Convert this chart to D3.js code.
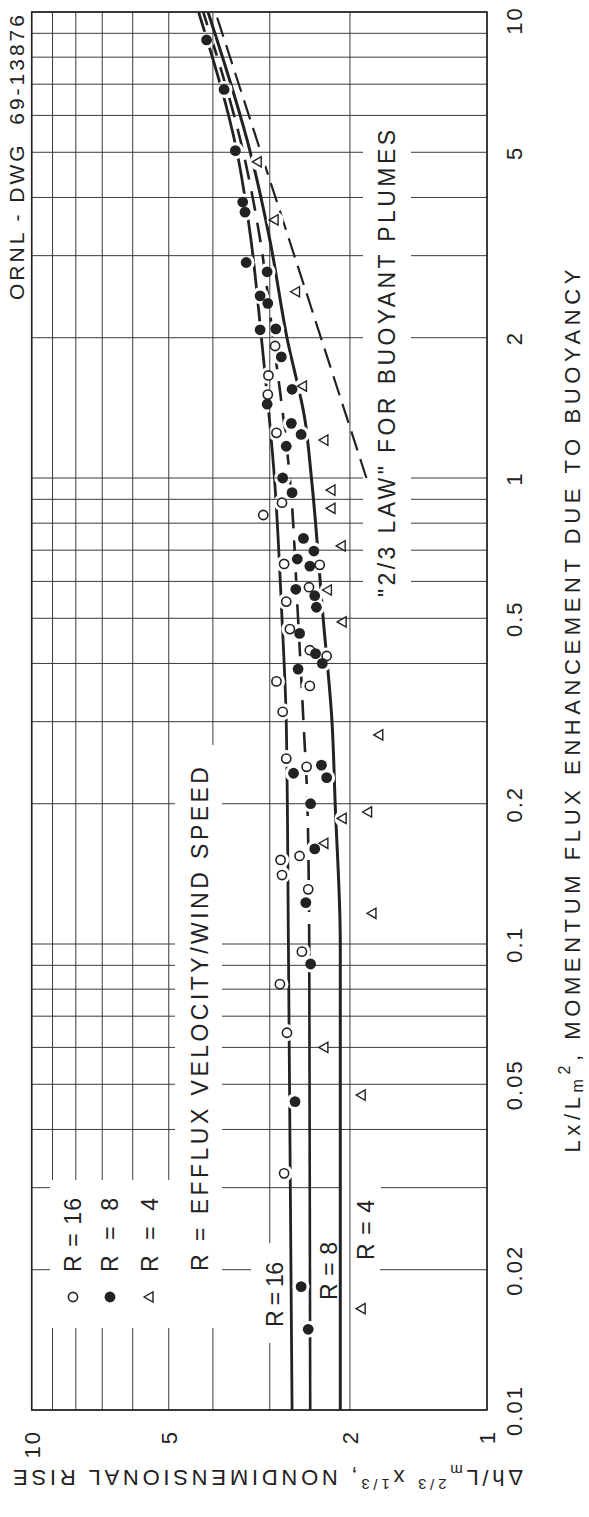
<!DOCTYPE html>
<html>
<head>
<meta charset="utf-8">
<script src="https://cdnjs.cloudflare.com/ajax/libs/d3/7.8.5/d3.min.js"></script>
<style>
  body { margin: 0; background: #fff; overflow: hidden; }
  svg text { font-family: "Liberation Sans", Arial, sans-serif; fill: #222; }
</style>
</head>
<body>
<svg id="chart"></svg>
<script>
// ---- data (flux = Lx/Lm^2, rise = nondimensional rise) ----
const fluxTicks = [0.01, 0.02, 0.05, 0.1, 0.2, 0.5, 1, 2, 5, 10];
const fluxTickLabels = ["0.01", "0.02", "0.05", "0.1", "0.2", "0.5", "1", "2", "5", "10"];
const riseTicks = [10, 5, 2, 1];
const riseTickLabels = ["10", "5", "2", "1"];

// measured points [flux, rise]
const r16Points = [[1.92,2.92],[1.66,3.02],[1.51,3.03],[1.25,2.90],[0.885,2.82],[0.833,3.10],[0.654,2.79],
  [0.651,2.33],[0.583,2.46],[0.543,2.76],[0.474,2.71],[0.427,2.45],[0.415,2.25],[0.366,2.90],[0.358,2.45],
  [0.315,2.81],[0.250,2.76],[0.240,2.49],[0.1545,2.58],[0.1515,2.84],[0.1406,2.82],[0.131,2.47],
  [0.0963,2.55],[0.082,2.85],[0.0645,2.75],[0.0322,2.79]];
const r8Points = [[8.71,4.13],[6.82,3.78],[5.04,3.57],[3.91,3.44],[3.72,3.40],[2.90,3.38],[2.77,3.04],
  [2.46,3.15],[2.37,3.03],[2.08,3.15],[2.09,2.91],[1.82,2.83],[1.55,2.68],[1.44,3.04],[1.31,2.69],
  [1.24,2.56],[1.17,2.76],[1.00,2.81],[0.93,2.68],[0.742,2.53],[0.697,2.40],[0.670,2.61],[0.647,2.45],
  [0.577,2.63],[0.559,2.39],[0.528,2.37],[0.464,2.58],[0.420,2.38],[0.400,2.30],[0.389,2.60],
  [0.242,2.31],[0.2325,2.66],[0.2275,2.25],[0.200,2.44],[0.160,2.39],[0.1227,2.50],[0.0906,2.44],
  [0.0459,2.64],[0.0184,2.56],[0.0149,2.47]];
const r4Points = [[4.77,3.18],[3.58,2.92],[2.51,2.62],[1.575,2.53],[1.206,2.27],[0.942,2.19],[0.861,2.19],
  [0.715,2.08],[0.575,2.23],[0.491,2.07],[0.281,1.72],[0.192,1.82],[0.186,2.07],[0.1645,2.27],
  [0.1164,1.78],[0.060,2.27],[0.0474,1.88],[0.0165,1.88]];

// drawn curves [flux, rise]
const r16Curve = [[0.01,2.68],[0.1,2.73],[0.3,2.76],[0.5,2.82],[1,2.93],[2,3.13],[3.25,3.30],[5,3.54],[10,4.30]];
const r8Curve = [[0.01,2.445],[0.1,2.457],[0.2,2.48],[0.3,2.53],[0.5,2.60],[1,2.71],[2,2.95],[3.25,3.15],[5,3.43],[10,4.20]];
const r4Curve = [[0.01,2.10],[0.1,2.10],[0.2,2.155],[0.3,2.19],[0.5,2.29],[1,2.43],[1.33,2.51],[2,2.75],[3.25,3.00],[5,3.31],[10,4.10]];
const lawCurve = [[1.0,1.84],[10,3.95]];

// ---- layout ----
const W = 589, H = 1517;
const plot = { left: 31.7, right: 487, top: 12, bottom: 1410 };
const ink = "#222";

const svg = d3.select("#chart").attr("width", W).attr("height", H);
svg.append("rect").attr("width", W).attr("height", H).attr("fill", "#fff");

// rise runs left (10) to right (1), flux runs bottom (0.01) to top (10)
const x = d3.scaleLog().domain([10, 1]).range([plot.left, plot.right]);
const y = d3.scaleLog().domain([0.01, 10]).range([plot.bottom, plot.top]);

const defs = svg.append("defs");
defs.append("clipPath").attr("id", "plotClip")
  .append("rect").attr("x", plot.left).attr("y", plot.top)
  .attr("width", plot.right - plot.left).attr("height", plot.bottom - plot.top);

// blank zones where the draftsman left the grid out (around lettering)
const hGaps = [[363,125,411,603],[175,745,222,1276],[50,1180,222,1328],[251,1262,380,1278],[340,1181,381,1195]];
const vGaps = [[175,745,222,1276],[50,1180,222,1328],[258,1243,285,1343]];
function gapMask(id, gaps) {
  const m = defs.append("mask").attr("id", id).attr("maskUnits", "userSpaceOnUse")
    .attr("x", 0).attr("y", 0).attr("width", W).attr("height", H);
  m.append("rect").attr("width", W).attr("height", H).attr("fill", "white");
  m.selectAll("rect.g").data(gaps).join("rect").attr("class", "g")
    .attr("x", d => d[0]).attr("y", d => d[1])
    .attr("width", d => d[2] - d[0]).attr("height", d => d[3] - d[1]).attr("fill", "black");
}
gapMask("hMask", hGaps);
gapMask("vMask", vGaps);

// curves break around the plotted symbols
const allPoints = r16Points.concat(r8Points, r4Points);
const cMask = defs.append("mask").attr("id", "cMask").attr("maskUnits", "userSpaceOnUse")
  .attr("x", 0).attr("y", 0).attr("width", W).attr("height", H);
cMask.append("rect").attr("width", W).attr("height", H).attr("fill", "white");
cMask.selectAll("circle").data(allPoints).join("circle")
  .attr("cx", d => x(d[1])).attr("cy", d => y(d[0])).attr("r", 8.5).attr("fill", "black");

// grid
svg.append("g").attr("mask", "url(#hMask)").attr("stroke", "#3a3a3a").attr("stroke-width", 1)
  .selectAll("line").data(y.ticks()).join("line")
  .attr("x1", plot.left).attr("x2", plot.right)
  .attr("y1", d => y(d)).attr("y2", d => y(d));
svg.append("g").attr("mask", "url(#vMask)").attr("stroke", "#3a3a3a").attr("stroke-width", 1)
  .selectAll("line").data(x.ticks()).join("line")
  .attr("y1", plot.top).attr("y2", plot.bottom)
  .attr("x1", d => x(d)).attr("x2", d => x(d));
svg.append("rect").attr("x", plot.left).attr("y", plot.top)
  .attr("width", plot.right - plot.left).attr("height", plot.bottom - plot.top)
  .attr("fill", "none").attr("stroke", ink).attr("stroke-width", 1.6);

// curves
const line = d3.line().x(d => x(d[1])).y(d => y(d[0])).curve(d3.curveMonotoneY);
const gc = svg.append("g").attr("clip-path", "url(#plotClip)")
  .append("g").attr("mask", "url(#cMask)")
  .attr("fill", "none").attr("stroke", ink);
gc.append("path").attr("d", line(r16Curve)).attr("stroke-width", 2.8);
gc.append("path").attr("d", line(r8Curve.filter(d => d[0] <= 0.1))).attr("stroke-width", 2.6);
gc.append("path").attr("d", line(r8Curve.filter(d => d[0] >= 0.1))).attr("stroke-width", 2.6)
  .attr("stroke-dasharray", "20,12");
gc.append("path").attr("d", line(r4Curve)).attr("stroke-width", 3);
gc.append("path").attr("d", line(lawCurve)).attr("stroke-width", 2.2).attr("stroke-dasharray", "20,9");

// symbols
const tri = d3.symbol(d3.symbolTriangle, 46);
function openSym(g) { g.append("circle").attr("r", 4.6).attr("fill", "#fff").attr("stroke", ink).attr("stroke-width", 1.6); }
function fillSym(g) { g.append("circle").attr("r", 5.4).attr("fill", ink); }
function triSym(g) { g.append("path").attr("d", tri()).attr("transform", "rotate(-90)")
  .attr("fill", "#fff").attr("stroke", ink).attr("stroke-width", 1.4); }

const gp = svg.append("g");
gp.selectAll("g.o").data(r16Points).join("g").attr("class", "o")
  .attr("transform", d => `translate(${x(d[1])},${y(d[0])})`).each(function () { openSym(d3.select(this)); });
gp.selectAll("g.f").data(r8Points).join("g").attr("class", "f")
  .attr("transform", d => `translate(${x(d[1])},${y(d[0])})`).each(function () { fillSym(d3.select(this)); });
gp.selectAll("g.t").data(r4Points).join("g").attr("class", "t")
  .attr("transform", d => `translate(${x(d[1])},${y(d[0])})`).each(function () { triSym(d3.select(this)); });

// axes (labels turned with the sheet)
const fluxAxis = d3.axisRight(y).tickValues(fluxTicks).tickFormat((d, i) => fluxTickLabels[i]).tickSize(0).tickPadding(0);
const gfa = svg.append("g").attr("transform", "translate(514,0)").call(fluxAxis);
gfa.select(".domain").remove();
gfa.attr("font-family", null).attr("font-size", 22);
gfa.selectAll("text").attr("x", d => d === 10 ? -8 : 0).attr("dy", null).attr("transform", "rotate(-90)")
  .attr("text-anchor", "middle").attr("dominant-baseline", "central").attr("letter-spacing", 2);

const riseAxis = d3.axisBottom(x).tickValues(riseTicks).tickFormat((d, i) => riseTickLabels[i]).tickSize(0).tickPadding(0);
const gra = svg.append("g").attr("transform", "translate(0,1430)").call(riseAxis);
gra.select(".domain").remove();
gra.attr("font-family", null).attr("font-size", 22);
gra.selectAll("text").attr("y", 0).attr("dy", null).attr("transform", "rotate(-90)")
  .attr("text-anchor", "end").attr("dominant-baseline", "central").attr("letter-spacing", 2);

// vertical lettering helper: reads bottom to top
function vtext(cx, y0, str, len, size) {
  return svg.append("text").attr("transform", `translate(${cx},${y0}) rotate(-90)`)
    .attr("dominant-baseline", "central").attr("font-size", size || 22)
    .attr("textLength", len).attr("lengthAdjust", "spacing")
    .style("white-space", "pre").text(str);
}

vtext(16, 300, "ORNL - DWG  69-13876", 285, 21);
vtext(387, 597, "\"2/3 LAW\" FOR BUOYANT PLUMES", 467, 23);
vtext(200, 1271, "R = EFFLUX VELOCITY/WIND SPEED", 504, 23);

// legend
const legend = [
  { label: "R = 16", sym: openSym, cx: 73 },
  { label: "R = 8", sym: fillSym, cx: 110 },
  { label: "R = 4", sym: triSym, cx: 150 }
];
legend.forEach(d => {
  d.sym(svg.append("g").attr("transform", `translate(${d.cx},1297)`));
  vtext(d.cx, 1272, d.label, 74, 23);
});

// curve labels
vtext(275, 1327, "R = 16", 65, 23);
vtext(329, 1300, "R = 8", 58, 23);
vtext(366, 1260, "R = 4", 60, 23);

// flux axis title
const ft = svg.append("text").attr("transform", "translate(572,711) rotate(-90)")
  .attr("text-anchor", "middle").attr("dominant-baseline", "central").attr("font-size", 22)
  .attr("textLength", 883).attr("lengthAdjust", "spacing");
ft.append("tspan").text("Lx/L");
ft.append("tspan").attr("font-size", 16).attr("dy", 5).text("m");
ft.append("tspan").attr("font-size", 16).attr("dy", -13).text("2");
ft.append("tspan").attr("dy", 8).text(", MOMENTUM FLUX ENHANCEMENT DUE TO BUOYANCY");

// rise axis title (upside down with the sheet)
const rt = svg.append("text").attr("transform", "translate(268,1470) rotate(180)")
  .attr("text-anchor", "middle").attr("font-size", 22)
  .attr("textLength", 510).attr("lengthAdjust", "spacing");
rt.append("tspan").text("\u0394h/L");
rt.append("tspan").attr("font-size", 15).attr("dy", 5).text("m");
rt.append("tspan").attr("font-size", 15).attr("dy", -14).text("2/3");
rt.append("tspan").attr("dy", 9).text(" x");
rt.append("tspan").attr("font-size", 15).attr("dy", -9).text("1/3");
rt.append("tspan").attr("dy", 9).text(", NONDIMENSIONAL RISE");
</script>
</body>
</html>
